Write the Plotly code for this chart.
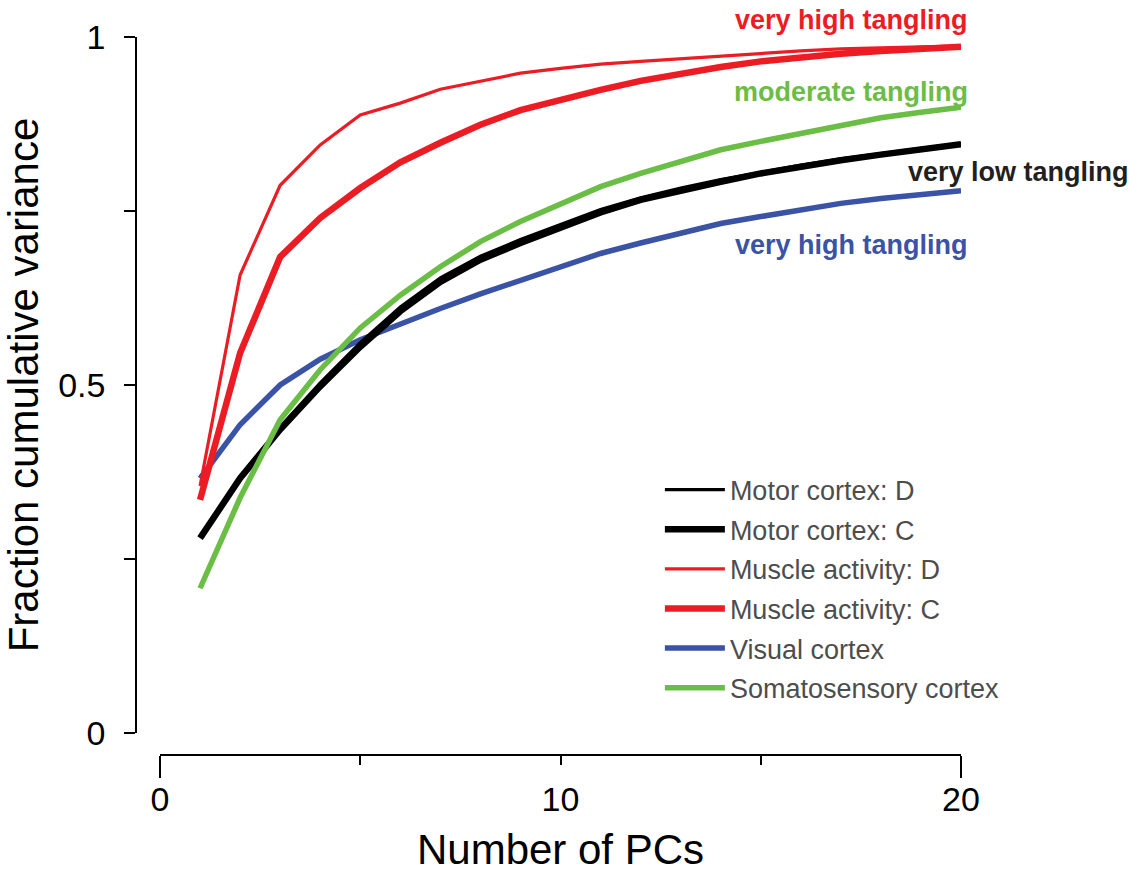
import plotly.graph_objects as go

# Number of principal components retained
n_pcs = list(range(1, 21))

# Fraction of cumulative variance explained, per dataset
motor_d = [0.282, 0.368, 0.440, 0.503, 0.561, 0.612, 0.654, 0.685, 0.709, 0.731,
           0.752, 0.769, 0.783, 0.795, 0.806, 0.816, 0.825, 0.833, 0.840, 0.847]
motor_c = [0.280, 0.366, 0.436, 0.498, 0.555, 0.606, 0.648, 0.680, 0.704, 0.727,
           0.748, 0.766, 0.780, 0.792, 0.804, 0.814, 0.823, 0.831, 0.839, 0.846]
muscle_d = [0.355, 0.658, 0.787, 0.845, 0.888, 0.905, 0.925, 0.937, 0.948, 0.955,
            0.961, 0.965, 0.969, 0.973, 0.977, 0.980, 0.983, 0.985, 0.986, 0.987]
muscle_c = [0.335, 0.546, 0.684, 0.740, 0.783, 0.820, 0.848, 0.874, 0.895, 0.910,
            0.924, 0.937, 0.948, 0.957, 0.965, 0.971, 0.976, 0.980, 0.984, 0.986]
visual = [0.366, 0.443, 0.500, 0.537, 0.565, 0.588, 0.610, 0.631, 0.651, 0.670,
          0.689, 0.704, 0.718, 0.732, 0.742, 0.751, 0.761, 0.768, 0.774, 0.779]
somato = [0.208, 0.338, 0.450, 0.522, 0.582, 0.629, 0.670, 0.706, 0.735, 0.761,
          0.785, 0.804, 0.821, 0.838, 0.850, 0.862, 0.874, 0.884, 0.892, 0.899]

x_tick_vals = [0, 5, 10, 15, 20]
x_tick_text = ["0", "", "10", "", "20"]
y_tick_vals = [0, 0.25, 0.5, 0.75, 1]
y_tick_text = ["0", "", "0.5", "", "1"]

RED = "#EC1C24"
BLUE = "#3A53A4"
GREEN = "#6ABD45"
BLACK = "#000000"
FONT = "Arial, Liberation Sans, sans-serif"

# (name, values, colour, width, legend rank) in drawing order
series = [
    ("Visual cortex", visual, BLUE, 5.5, 5),
    ("Motor cortex: C", motor_c, BLACK, 6.5, 2),
    ("Motor cortex: D", motor_d, BLACK, 3.2, 1),
    ("Somatosensory cortex", somato, GREEN, 5.5, 6),
    ("Muscle activity: C", muscle_c, RED, 6.5, 4),
    ("Muscle activity: D", muscle_d, RED, 3.2, 3),
]

fig = go.Figure()
for name, vals, color, width, rank in series:
    fig.add_trace(go.Scatter(
        x=n_pcs, y=vals, mode="lines", name=name,
        line=dict(color=color, width=width),
        legendrank=rank, legendgroup=name,
        cliponaxis=False,
    ))

# empty trace that carries the overlay axis used for the long end ticks
fig.add_trace(go.Scatter(x=[], y=[], xaxis="x2", yaxis="y",
                         showlegend=False, hoverinfo="skip"))

# curve labels, placed in paper coordinates beside the curve ends
labels = [
    ("very high tangling", RED, 1.0109, 1.0237, "right"),
    ("moderate tangling", GREEN, 1.0109, 0.9234, "right"),
    ("very low tangling", "#231F20", 0.9333, 0.8120, "left"),
    ("very high tangling", BLUE, 1.0109, 0.7103, "right"),
]
for text, color, lx, ly, anchor in labels:
    fig.add_annotation(x=lx, y=ly, xref="paper", yref="paper", text=text,
                       showarrow=False, xanchor=anchor, yanchor="middle",
                       font=dict(family=FONT, size=27, color=color, weight="bold"))

fig.update_layout(
    template="none",
    width=1140, height=873,
    margin=dict(l=136, r=179, t=37, b=118, autoexpand=False),
    paper_bgcolor="white", plot_bgcolor="white",
    font=dict(family=FONT, color="black"),
    showlegend=True,
    legend=dict(
        x=0.635, y=0.403, xanchor="left", yanchor="top",
        bgcolor="rgba(0,0,0,0)", borderwidth=0,
        font=dict(family=FONT, size=27, color="#4d4d4d"),
        tracegroupgap=1.5, itemwidth=60,
    ),
    xaxis=dict(
        domain=[0.0291, 1], range=[0, 20], anchor="free", position=0,
        automargin=False,
        showline=True, linecolor="black", linewidth=1.5,
        ticks="outside", ticklen=9, tickwidth=1.5, tickcolor="black",
        tickvals=x_tick_vals, ticktext=x_tick_text,
        tickfont=dict(family=FONT, size=34, color="black"),
        ticklabelstandoff=5,
        showgrid=False, zeroline=False,
        title=dict(text="Number of PCs", standoff=31,
                   font=dict(family=FONT, size=42, color="black")),
    ),
    xaxis2=dict(
        domain=[0.0291, 1], range=[0, 20], anchor="free", position=0,
        automargin=False,
        overlaying="x", showline=False,
        ticks="outside", ticklen=22, tickwidth=1.5, tickcolor="black",
        tickvals=[0, 20], showticklabels=False,
        showgrid=False, zeroline=False,
    ),
    yaxis=dict(
        domain=[0.0306, 1], range=[0, 1], anchor="free", position=0,
        automargin=False,
        showline=True, linecolor="black", linewidth=1.5,
        ticks="outside", ticklen=11, tickwidth=1.5, tickcolor="black",
        tickvals=y_tick_vals, ticktext=y_tick_text,
        tickfont=dict(family=FONT, size=34, color="black"),
        ticklabelstandoff=12,
        showgrid=False, zeroline=False,
        title=dict(text="Fraction cumulative variance", standoff=14,
                   font=dict(family=FONT, size=42, color="black")),
    ),
)

fig.write_html("out.html")
